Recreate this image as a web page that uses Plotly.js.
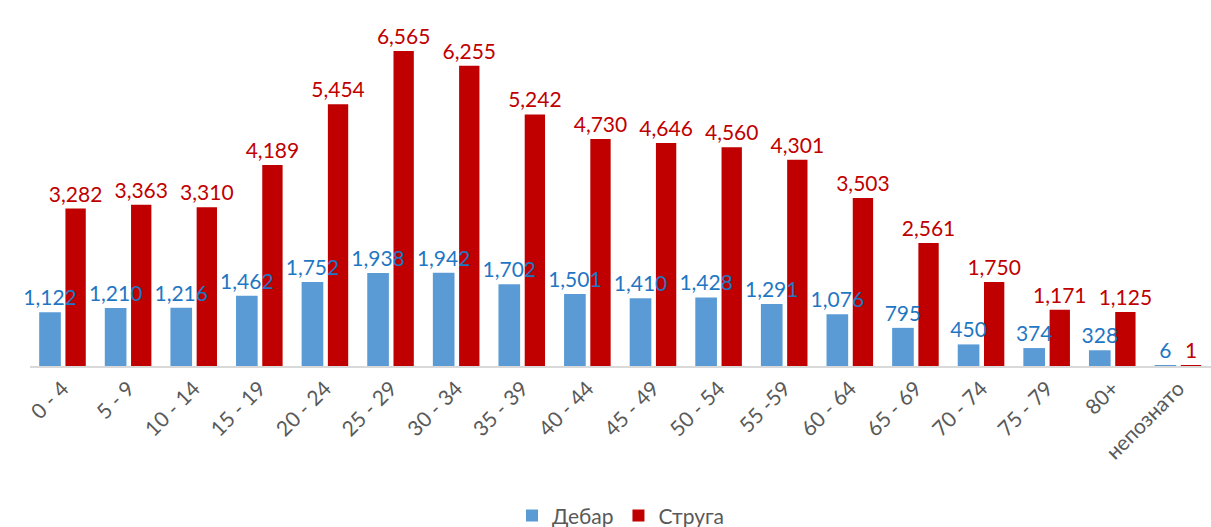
<!DOCTYPE html>
<html>
<head>
<meta charset="utf-8">
<script src="https://cdn.plot.ly/plotly-3.0.1.min.js"></script>
<style>
  html, body { margin: 0; padding: 0; background: #fff; }
  #chart { width: 1211px; height: 527px; }
</style>
</head>
<body>
<div id="chart"></div>
<script>
var ageGroups = ['0 - 4', '5 - 9', '10 - 14', '15 - 19', '20 - 24', '25 - 29', '30 - 34', '35 - 39',
                 '40 - 44', '45 - 49', '50 - 54', '55 -59', '60 - 64', '65 - 69', '70 - 74', '75 - 79',
                 '80+', 'непознато'];
var debar  = [1122, 1210, 1216, 1462, 1752, 1938, 1942, 1702, 1501, 1410, 1428, 1291, 1076, 795, 450, 374, 328, 6];
var struga = [3282, 3363, 3310, 4189, 5454, 6565, 6255, 5242, 4730, 4646, 4560, 4301, 3503, 2561, 1750, 1171, 1125, 1];

var labelFont = { family: 'Lato, "Open Sans", sans-serif', size: 21 };
function fmt(v) { return v.toLocaleString('en-US'); }

// Струга first so the Дебар labels are drawn on top of the red bars
var data = [
    {
        x: ageGroups, y: struga, type: 'bar', name: 'Струга',
        offset: 0.04, width: 0.31,
        marker: { color: '#c00000' },
        text: struga.map(fmt),
        textposition: 'outside', constraintext: 'none', cliponaxis: false,
        textfont: Object.assign({ color: '#c00000' }, labelFont),
        hoverinfo: 'x+y'
    },
    {
        x: ageGroups, y: debar, type: 'bar', name: 'Дебар',
        offset: -0.36, width: 0.33,
        marker: { color: '#5b9bd5' },
        text: debar.map(fmt),
        textposition: 'outside', constraintext: 'none', cliponaxis: false,
        textfont: Object.assign({ color: '#1f77c4' }, labelFont),
        hoverinfo: 'x+y'
    }
];

var layout = {
    width: 1211, height: 527,
    margin: { l: 30, r: 0, t: 30, b: 161, autoexpand: false },
    paper_bgcolor: '#fff', plot_bgcolor: '#fff',
    barmode: 'overlay',
    font: { family: 'Lato, "Open Sans", sans-serif', color: '#595959' },
    xaxis: {
        tickangle: -45, tickfont: { size: 21, color: '#595959' },
        showline: true, linecolor: '#d9d9d9', linewidth: 2,
        ticks: '', showgrid: false, automargin: false
    },
    yaxis: {
        range: [0, 6565 * 336 / 315], showticklabels: false,
        showgrid: false, zeroline: false, showline: false, automargin: false
    },
    showlegend: true,
    legend: {
        orientation: 'h', traceorder: 'reversed',
        x: 0.5, xanchor: 'center', y: -0.446, yanchor: 'middle',
        font: { size: 21, color: '#595959' }, itemwidth: 30
    }
};

Plotly.newPlot('chart', data, layout, { displayModeBar: false });
</script>
</body>
</html>
